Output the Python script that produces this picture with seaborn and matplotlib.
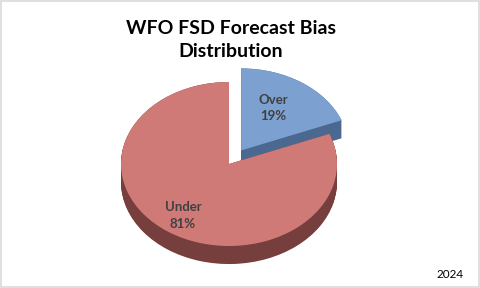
import numpy as np
import matplotlib
matplotlib.use("Agg")
import matplotlib.pyplot as plt
import seaborn as sns

# ---- data ----
categories = ["Over", "Under"]
values = [19, 81]
title = "WFO FSD Forecast Bias\nDistribution"
year_note = "2024"

sns.set_theme(style="white")
plt.rcParams['font.family'] = ['Lato', 'DejaVu Sans']

top_colors = ["#7ca1d1", "#cf7a77"]
side_colors = ["#4b6890", "#763f3d"]
explode = [0.2, 0.0]

fig = plt.figure(figsize=(4.8, 2.88), dpi=100)
fig.patch.set_facecolor("white")
ax = fig.add_axes([0, 0, 1, 1])

depth = 0.22
# side (extruded) layers
for k in np.linspace(depth, 0.0, 24):
    ax.pie(values, explode=explode, startangle=90, counterclock=False,
           colors=side_colors, center=(0, -k), radius=1.0,
           wedgeprops=dict(linewidth=0, antialiased=True))
# top faces
wedges, _ = ax.pie(values, explode=explode, startangle=90, counterclock=False,
                   colors=top_colors, center=(0, 0), radius=1.0,
                   wedgeprops=dict(linewidth=0, antialiased=True))

# labels inside slices
label_r = [0.6, 0.76]
label_da = [4, 0]
for w, cat, v, r, da in zip(wedges, categories, values, label_r, label_da):
    ang = np.deg2rad((w.theta1 + w.theta2) / 2 + da)
    cx, cy = w.center
    ax.text(cx + r * np.cos(ang), cy + r * np.sin(ang), f"{cat}\n{v}%",
            ha="center", va="center", fontsize=9.5, fontweight="bold",
            color="#404040", linespacing=1.45)

ax.set_aspect("auto")
rx, ry = 108.0, 82.0
cxp, cyp = 229.0, 164.0
ax.set_xlim(-cxp / rx, (480 - cxp) / rx)
ax.set_ylim(-(288 - cyp) / ry, cyp / ry)
ax.axis("off")

fig.text(231 / 480, 1 - 40 / 288, title, ha="center", va="center",
         fontsize=14, fontweight="bold", color="black", linespacing=1.45)
fig.text(450 / 480, 1 - 275 / 288, year_note, ha="center", va="center",
         fontsize=8.5, color="black")

# light border around the chart area
border = plt.Rectangle((0.002, 0.003), 0.995, 0.993, transform=fig.transFigure,
                       fill=False, edgecolor="#d9d9d9", linewidth=1.2)
fig.patches.append(border)

fig.savefig("out.png", dpi=100, facecolor="white")
